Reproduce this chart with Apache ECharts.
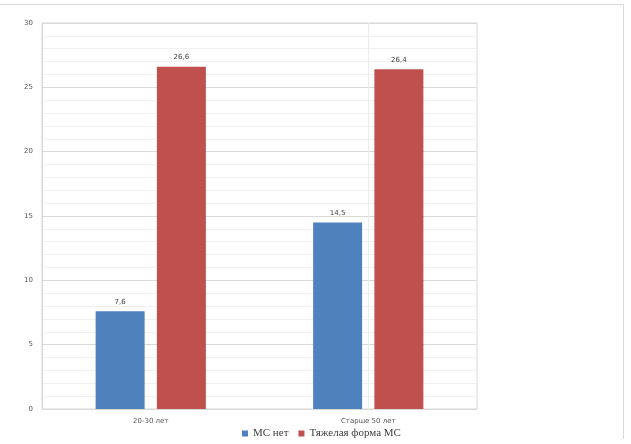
<!DOCTYPE html>
<html>
<head>
<meta charset="utf-8">
<script src="https://cdn.jsdelivr.net/npm/echarts@6/dist/echarts.min.js"></script>
<style>
  html, body { margin: 0; padding: 0; background: #fff; }
  #chart { width: 631px; height: 444px; }
</style>
</head>
<body>
<div id="chart"></div>
<script>
var categories = ['20-30 лет', 'Старше 50 лет'];
var seriesNames = ['МС нет', 'Тяжелая форма МС'];
var noMS = [7.6, 14.5];
var severeMS = [26.6, 26.4];
var yTicks = { min: 0, max: 30, interval: 5 };

function commaLabel(p) {
    return String(p.value).replace('.', ',');
}

var barLabel = {
    show: true,
    position: 'top',
    distance: 6,
    formatter: commaLabel,
    fontFamily: 'DejaVu Sans',
    fontSize: 7,
    color: '#404040'
};

var chart = echarts.init(document.getElementById('chart'));
chart.setOption({
    backgroundColor: '#ffffff',
    animation: false,
    graphic: [
        { type: 'line', shape: { x1: 0, y1: 4.5, x2: 623.5, y2: 4.5 }, style: { stroke: '#d9d9d9', lineWidth: 1 } },
        { type: 'line', shape: { x1: 623.5, y1: 4.5, x2: 623.5, y2: 439 }, style: { stroke: '#d9d9d9', lineWidth: 1 } }
    ],
    grid: {
        left: 42,
        right: 154,
        top: 23,
        bottom: 35,
        show: true,
        borderColor: '#d9d9d9',
        borderWidth: 1
    },
    legend: {
        data: seriesNames,
        left: 237,
        top: 423,
        itemWidth: 6,
        itemHeight: 6,
        itemGap: 10,
        icon: 'rect',
        textStyle: {
            fontFamily: 'Liberation Serif',
            fontSize: 11,
            color: '#404040'
        }
    },
    xAxis: {
        type: 'category',
        data: categories,
        axisLine: { lineStyle: { color: '#d9d9d9' } },
        axisTick: { show: false },
        axisLabel: {
            fontFamily: 'DejaVu Sans',
            fontSize: 7,
            color: '#595959',
            margin: 9
        }
    },
    yAxis: {
        type: 'value',
        min: yTicks.min,
        max: yTicks.max,
        interval: yTicks.interval,
        axisLine: { show: true, lineStyle: { color: '#d9d9d9' } },
        axisTick: { show: false },
        axisLabel: {
            fontFamily: 'DejaVu Sans',
            fontSize: 7,
            color: '#595959',
            margin: 9
        },
        splitLine: { lineStyle: { color: '#d9d9d9' } },
        minorTick: { show: false, splitNumber: 5 },
        minorSplitLine: { show: true, lineStyle: { color: '#f0f0f0' } }
    },
    series: [
        {
            name: seriesNames[0],
            type: 'bar',
            data: noMS,
            barWidth: 49,
            barGap: '25%',
            z: 3,
            itemStyle: { color: '#4f81bd' },
            label: barLabel
        },
        {
            name: seriesNames[1],
            type: 'bar',
            data: severeMS,
            barWidth: 49,
            z: 3,
            itemStyle: { color: '#c0504d' },
            label: barLabel
        },
        {
            // faint vertical guide through the second category, behind the bars
            name: 'guide',
            type: 'line',
            data: [],
            z: 1,
            markLine: {
                silent: true,
                symbol: 'none',
                label: { show: false },
                lineStyle: { color: '#ececec', type: 'solid', width: 1 },
                data: [{ xAxis: categories[1] }]
            }
        }
    ]
});
</script>
</body>
</html>
